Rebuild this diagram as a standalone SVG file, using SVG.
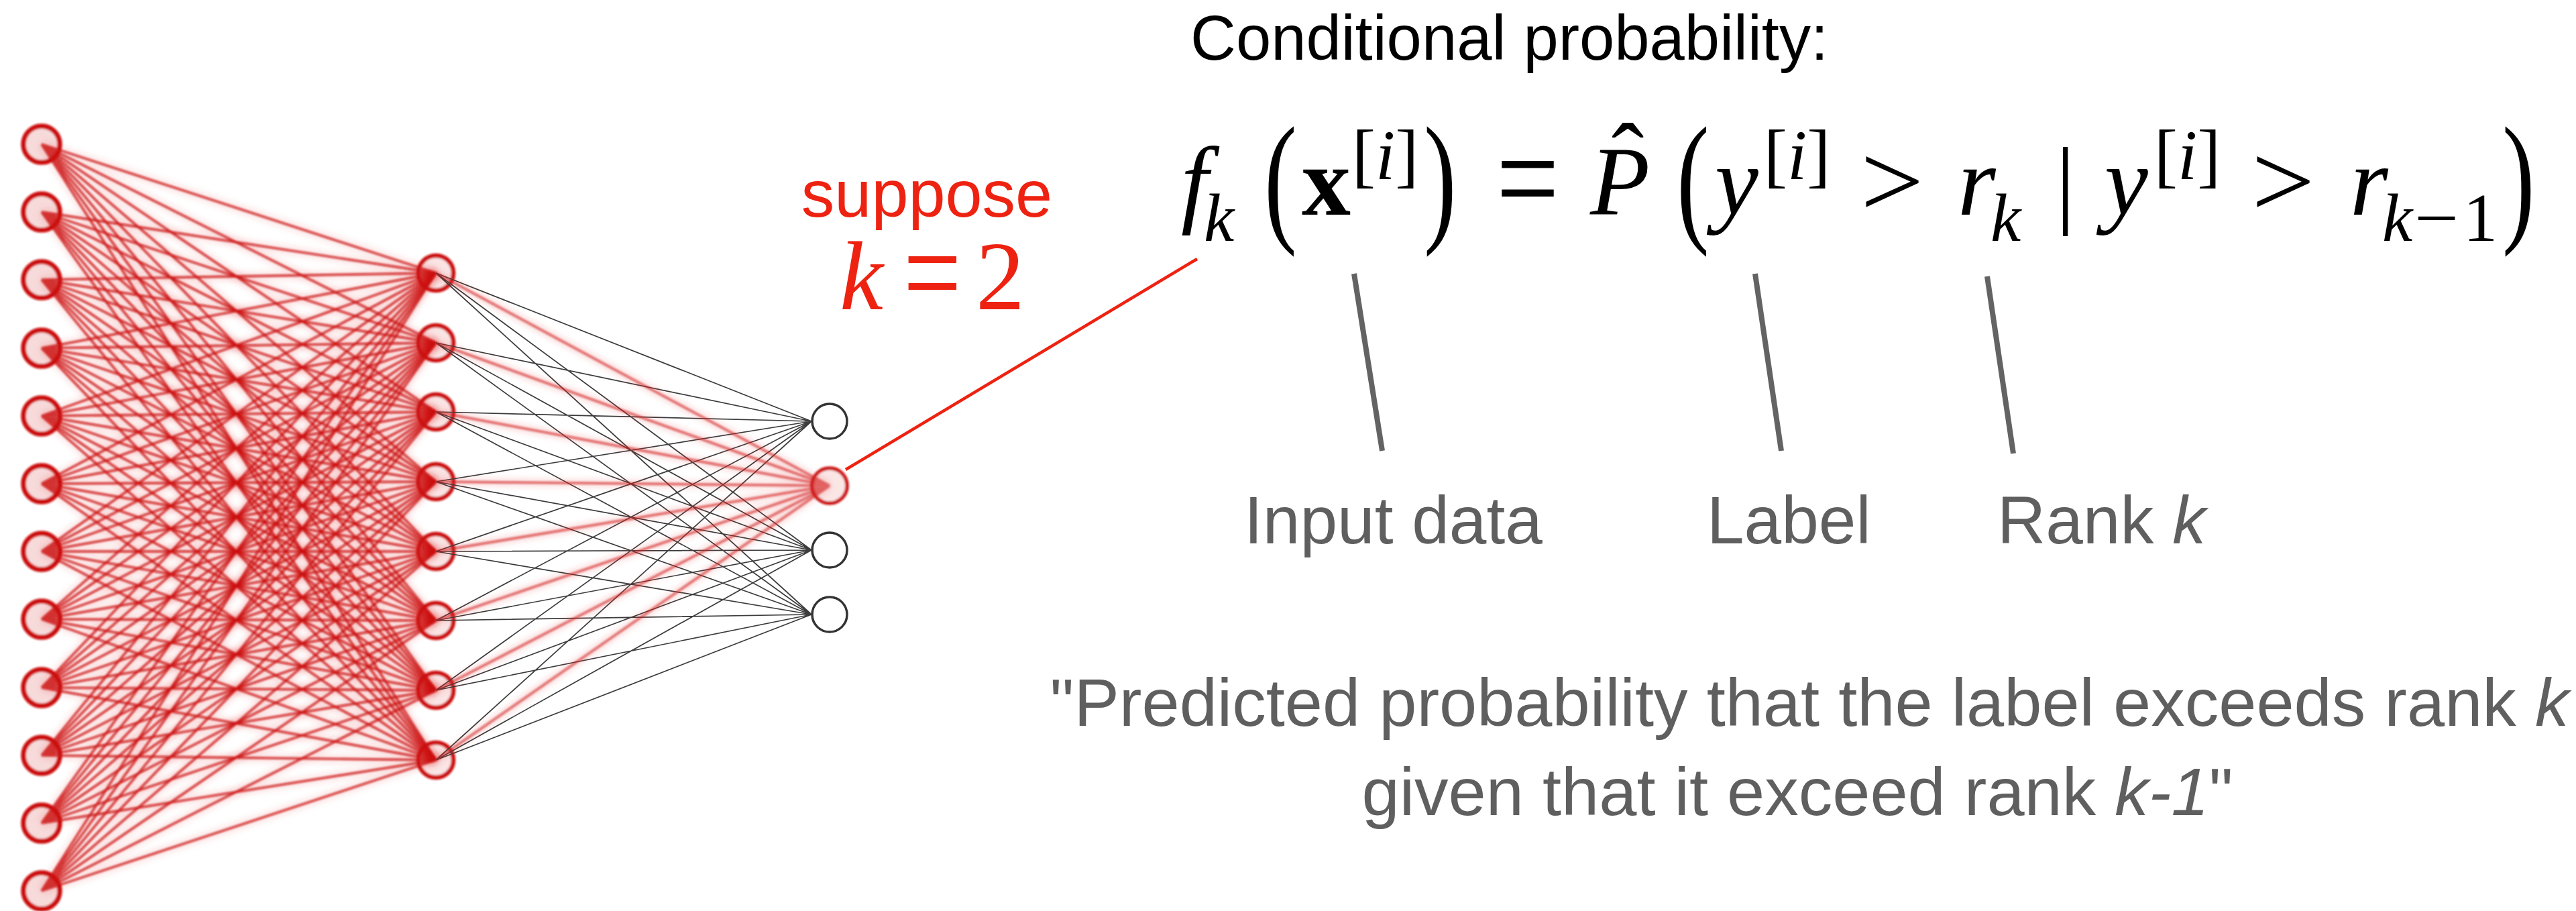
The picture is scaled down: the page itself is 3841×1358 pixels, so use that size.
<svg xmlns="http://www.w3.org/2000/svg" xmlns:xlink="http://www.w3.org/1999/xlink" width="3841" height="1358" viewBox="0 0 3841 1358">
<style>
.halo{fill:none;stroke:#e02020;stroke-width:14;stroke-opacity:0.09}
.core{fill:none;stroke:#cc0808;stroke-width:3.4;stroke-opacity:0.82}
.halo2{fill:none;stroke:#e02a2a;stroke-width:11;stroke-opacity:0.14}
.core2{fill:none;stroke:#d41a1a;stroke-width:4;stroke-opacity:0.62}
.gray{fill:none;stroke:#3c3c3c;stroke-width:1.7}
.inNode{fill:#f7dada;stroke:#cc0d0d;stroke-width:7.5}
.hidNode{fill:#fae4e4;stroke:#cc0d0d;stroke-width:6.5}
.outNode{fill:#ffffff;stroke:#333333;stroke-width:3.5}
.outRed{fill:#fbe6e6;stroke:#cc1111;stroke-width:5.5}
.m{font-family:'Liberation Serif','Times New Roman',serif;font-size:146px;fill:#000}
.it{font-style:italic}
.sub{font-size:102px}
.sup{font-size:105px}
.sans{font-family:'Liberation Sans',Arial,Helvetica,sans-serif}
.lab{font-size:100px;fill:#5f5f5f}
.q{font-size:101px;fill:#5f5f5f}
.red{fill:#ee2211}
.ptr{stroke:#636363;stroke-width:8;fill:none}
</style>
<defs>
<filter id="bS" x="-20%" y="-20%" width="140%" height="140%"><feGaussianBlur stdDeviation="1.6"/></filter>
<filter id="bL" x="-10%" y="-10%" width="120%" height="120%"><feGaussianBlur stdDeviation="4"/></filter>
</defs>
<rect width="3841" height="1358" fill="#ffffff"/>

<g id="nodes-input" filter="url(#bS)">
<g id="in1"><circle class="inNode" cx="62" cy="215" r="27"/></g>
<g id="in2"><circle class="inNode" cx="62" cy="316" r="27"/></g>
<g id="in3"><circle class="inNode" cx="62" cy="417" r="27"/></g>
<g id="in4"><circle class="inNode" cx="62" cy="519" r="27"/></g>
<g id="in5"><circle class="inNode" cx="62" cy="620" r="27"/></g>
<g id="in6"><circle class="inNode" cx="62" cy="721" r="27"/></g>
<g id="in7"><circle class="inNode" cx="62" cy="822" r="27"/></g>
<g id="in8"><circle class="inNode" cx="62" cy="923" r="27"/></g>
<g id="in9"><circle class="inNode" cx="62" cy="1025" r="27"/></g>
<g id="in10"><circle class="inNode" cx="62" cy="1126" r="27"/></g>
<g id="in11"><circle class="inNode" cx="62" cy="1227" r="27"/></g>
<g id="in12"><circle class="inNode" cx="62" cy="1328" r="27"/></g>
</g>
<g id="nodes-hidden" filter="url(#bS)">
<g id="h1"><circle class="hidNode" cx="650" cy="407" r="26"/></g>
<g id="h2"><circle class="hidNode" cx="650" cy="511" r="26"/></g>
<g id="h3"><circle class="hidNode" cx="650" cy="614" r="26"/></g>
<g id="h4"><circle class="hidNode" cx="650" cy="718" r="26"/></g>
<g id="h5"><circle class="hidNode" cx="650" cy="822" r="26"/></g>
<g id="h6"><circle class="hidNode" cx="650" cy="925" r="26"/></g>
<g id="h7"><circle class="hidNode" cx="650" cy="1029" r="26"/></g>
<g id="h8"><circle class="hidNode" cx="650" cy="1133" r="26"/></g>
</g>
<g id="out2" filter="url(#bS)"><circle class="outRed" cx="1237" cy="724" r="26"/></g>

<g id="connectors">
<use xlink:href="#ihPaths" href="#ihPaths" class="halo" filter="url(#bL)"/>
<g class="core" filter="url(#bS)">
<g id="ihPaths">
<path d="M62 215L650 407M62 215L650 511M62 215L650 614M62 215L650 718M62 215L650 822M62 215L650 925M62 215L650 1029M62 215L650 1133"/>
<path d="M62 316L650 407M62 316L650 511M62 316L650 614M62 316L650 718M62 316L650 822M62 316L650 925M62 316L650 1029M62 316L650 1133"/>
<path d="M62 417L650 407M62 417L650 511M62 417L650 614M62 417L650 718M62 417L650 822M62 417L650 925M62 417L650 1029M62 417L650 1133"/>
<path d="M62 519L650 407M62 519L650 511M62 519L650 614M62 519L650 718M62 519L650 822M62 519L650 925M62 519L650 1029M62 519L650 1133"/>
<path d="M62 620L650 407M62 620L650 511M62 620L650 614M62 620L650 718M62 620L650 822M62 620L650 925M62 620L650 1029M62 620L650 1133"/>
<path d="M62 721L650 407M62 721L650 511M62 721L650 614M62 721L650 718M62 721L650 822M62 721L650 925M62 721L650 1029M62 721L650 1133"/>
<path d="M62 822L650 407M62 822L650 511M62 822L650 614M62 822L650 718M62 822L650 822M62 822L650 925M62 822L650 1029M62 822L650 1133"/>
<path d="M62 923L650 407M62 923L650 511M62 923L650 614M62 923L650 718M62 923L650 822M62 923L650 925M62 923L650 1029M62 923L650 1133"/>
<path d="M62 1025L650 407M62 1025L650 511M62 1025L650 614M62 1025L650 718M62 1025L650 822M62 1025L650 925M62 1025L650 1029M62 1025L650 1133"/>
<path d="M62 1126L650 407M62 1126L650 511M62 1126L650 614M62 1126L650 718M62 1126L650 822M62 1126L650 925M62 1126L650 1029M62 1126L650 1133"/>
<path d="M62 1227L650 407M62 1227L650 511M62 1227L650 614M62 1227L650 718M62 1227L650 822M62 1227L650 925M62 1227L650 1029M62 1227L650 1133"/>
<path d="M62 1328L650 407M62 1328L650 511M62 1328L650 614M62 1328L650 718M62 1328L650 822M62 1328L650 925M62 1328L650 1029M62 1328L650 1133"/>
</g>
</g>
<path class="gray" d="M650 407L1210 628M650 407L1210 820M650 407L1210 916M650 511L1210 628M650 511L1210 820M650 511L1210 916M650 614L1210 628M650 614L1210 820M650 614L1210 916M650 718L1210 628M650 718L1210 820M650 718L1210 916M650 822L1210 628M650 822L1210 820M650 822L1210 916M650 925L1210 628M650 925L1210 820M650 925L1210 916M650 1029L1210 628M650 1029L1210 820M650 1029L1210 916M650 1133L1210 628M650 1133L1210 820M650 1133L1210 916"/>
<use xlink:href="#hoPaths" href="#hoPaths" class="halo2" filter="url(#bL)"/>
<g class="core2" filter="url(#bS)">
<g id="hoPaths">
<path d="M650 407L1237 724M650 511L1237 724M650 614L1237 724M650 718L1237 724M650 822L1237 724M650 925L1237 724M650 1029L1237 724M650 1133L1237 724"/>
</g>
</g>
<line x1="1261" y1="700" x2="1785" y2="386" stroke="#ee2211" stroke-width="4.5"/>
<line class="ptr" x1="2019" y1="408" x2="2061" y2="672"/>
<line class="ptr" x1="2617" y1="408" x2="2656" y2="672"/>
<line class="ptr" x1="2963" y1="412" x2="3002" y2="676"/>
</g>

<g id="out1"><circle class="outNode" cx="1237" cy="628" r="26"/></g>
<g id="out3"><circle class="outNode" cx="1237" cy="820" r="26"/></g>
<g id="out4"><circle class="outNode" cx="1237" cy="916" r="26"/></g>

<g id="suppose">
<text class="sans red" x="1382" y="323" font-size="99" text-anchor="middle">suppose</text>
<text class="m it red" x="1252" y="461" font-size="118">k</text>
<text class="m red" font-size="118" transform="translate(1347,473) scale(1.05,1.36)">=</text>
<text class="m red" x="1455" y="461" font-size="116">2</text>
</g>

<g id="title">
<text class="sans" x="1775" y="89" font-size="94" fill="#000">Conditional probability:</text>
</g>

<g id="formula">
<text class="m it" x="1761" y="320">f</text>
<text class="m it sub" x="1795" y="359">k</text>
<text class="m" transform="translate(1885,337) scale(1,1.462)">(</text>
<text class="m" x="1941" y="320" font-weight="bold">x</text>
<text class="m sup" x="2016" y="267">[<tspan class="it">i</tspan>]</text>
<text class="m" transform="translate(2123,337) scale(1,1.462)">)</text>
<text class="m" transform="translate(2231,337) scale(1.14,1.45)">=</text>
<text class="m" x="2427" y="285" text-anchor="middle">ˆ</text>
<text class="m it" x="2371" y="320">P</text>
<text class="m" transform="translate(2500,337) scale(1,1.462)">(</text>
<text class="m it" x="2557" y="320">y</text>
<text class="m sup" x="2630" y="267">[<tspan class="it">i</tspan>]</text>
<text class="m" transform="translate(2774,323) scale(1.15,1.07)">&gt;</text>
<text class="m it" x="2919" y="320">r</text>
<text class="m it sub" x="2968" y="359">k</text>
<text class="m" x="3065" y="321" font-size="131">|</text>
<text class="m it" x="3138" y="320">y</text>
<text class="m sup" x="3212" y="267">[<tspan class="it">i</tspan>]</text>
<text class="m" transform="translate(3357,323) scale(1.15,1.07)">&gt;</text>
<text class="m it" x="3504" y="320">r</text>
<text class="m it sub" x="3552" y="359">k</text>
<text class="m sub" transform="translate(3600,359) scale(1.15,1)">−</text>
<text class="m sub" x="3673" y="359">1</text>
<text class="m" transform="translate(3731,337) scale(1,1.462)">)</text>
</g>

<g id="labels">
<text class="sans lab" x="1855" y="810">Input data</text>
<text class="sans lab" x="2545" y="810">Label</text>
<text class="sans lab" x="2978" y="810">Rank <tspan font-style="italic">k</tspan></text>
</g>

<g id="quote">
<text class="sans q" x="2698" y="1082" text-anchor="middle">"Predicted probability that the label exceeds rank <tspan font-style="italic">k</tspan></text>
<text class="sans q" x="2680" y="1215" text-anchor="middle">given that it exceed rank <tspan font-style="italic">k-1</tspan>"</text>
</g>
</svg>
